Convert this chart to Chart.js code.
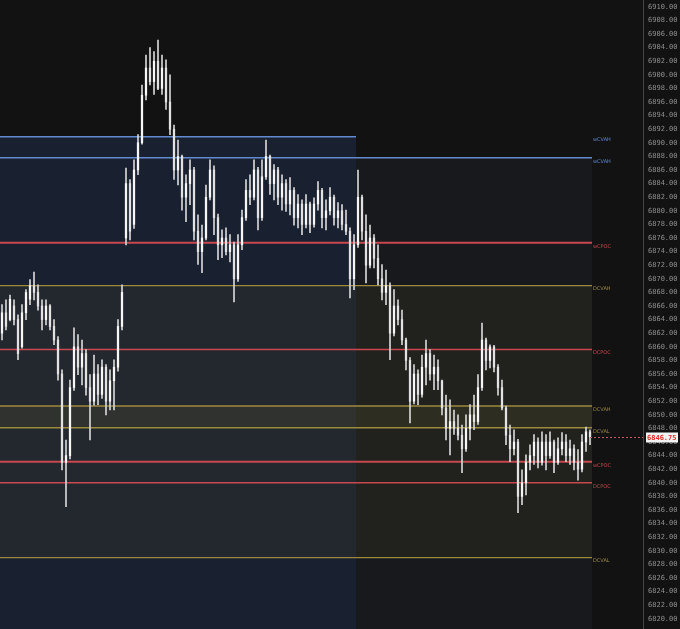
<!DOCTYPE html>
<html>
<head>
<meta charset="utf-8">
<script src="https://cdn.jsdelivr.net/npm/chart.js@4.4.1/dist/chart.umd.min.js"></script>
<style>
  html, body { margin: 0; padding: 0; background: #121212; }
  #wrap { width: 680px; height: 629px; }
</style>
</head>
<body>
<div id="wrap"><canvas id="myChart"></canvas></div>
<script>
// candles, one every slot (index = time)
const opens = [6862,6865,6864,6866,6864,6860,6865,6867,6869,6868,6866,6864,6866,6863,6861,6856,6843,6844,6854,6860,
  6857,6859,6854,6852,6856,6853,6857,6852,6855,6857,6863,6876,6884,6878,6886,6890,6897,6901,6899,6902,
  6898,6901,6896,6892,6886,6888,6882,6884,6886,6877,6874,6876,6882,6886,6879,6875,6876,6874,6875,6870,
  6875,6879,6883,6882,6886,6879,6885,6888,6884,6886,6882,6884,6881,6883,6879,6881,6878,6881,6878,6881,
  6883,6879,6880,6882,6879,6880,6878,6877,6870,6875,6882,6877,6872,6876,6873,6870,6868,6869,6862,6866,
  6864,6861,6858,6852,6856,6853,6857,6859,6856,6857,6855,6851,6848,6849,6848,6847,6845,6848,6850,6849,
  6854,6861,6858,6860,6857,6854,6851,6847,6845,6846,6838,6840,6843,6844,6846,6843,6846,6844,6846,6843,
  6845,6846,6844,6845,6843,6842,6846,6847.5];
const highs = [6866.2,6866.9,6867.6,6866.9,6864.7,6866.2,6868.4,6869.9,6871.0,6869.1,6866.9,6866.9,6866.2,6864.0,6861.5,6856.6,6846.3,6855.1,6862.8,6861.8,
  6861.0,6859.6,6855.9,6858.8,6857.4,6858.1,6857.4,6856.6,6858.1,6864.0,6869.1,6886.3,6884.6,6887.5,6891.2,6898.5,6902.9,6904.0,6903.4,6905.1,
  6902.9,6902.2,6900.0,6892.6,6890.4,6888.2,6885.3,6887.5,6886.4,6879.4,6877.9,6883.8,6887.5,6886.6,6879.5,6877.2,6877.5,6876.5,6875.4,6876.5,
  6880.1,6884.6,6885.3,6887.5,6886.4,6887.5,6890.4,6888.2,6886.8,6886.4,6885.3,6884.6,6884.9,6883.4,6882.4,6881.6,6882.4,6881.3,6881.9,6884.3,
  6883.3,6881.6,6883.4,6882.3,6881.2,6880.9,6880.1,6877.5,6876.5,6886.0,6882.3,6879.4,6877.9,6876.5,6875.0,6872.1,6871.3,6869.4,6868.4,6866.9,
  6865.4,6861.3,6858.4,6857.4,6856.6,6858.8,6861.0,6859.6,6858.8,6858.1,6855.1,6852.9,6852.2,6850.7,6850.0,6848.5,6850.0,6851.5,6852.9,6855.9,
  6863.5,6861.3,6860.3,6860.2,6857.4,6855.1,6851.3,6848.5,6847.8,6846.4,6841.9,6844.1,6845.6,6847.1,6846.6,6847.5,6847.1,6847.5,6846.3,6846.6,
  6847.4,6847.1,6846.3,6845.6,6844.9,6847.1,6848.2,6847.8];
const lows = [6861.0,6862.5,6863.8,6863.2,6858.1,6859.8,6864.0,6866.2,6866.9,6865.4,6862.5,6863.2,6862.5,6860.3,6855.1,6841.9,6836.5,6843.5,6853.6,6855.9,
  6854.4,6852.9,6846.3,6851.4,6851.5,6852.4,6850.0,6850.7,6850.7,6856.4,6862.5,6875.0,6875.7,6877.4,6885.3,6889.8,6896.3,6898.5,6897.1,6897.8,
  6897.1,6894.9,6891.2,6884.6,6883.8,6880.1,6878.4,6880.9,6875.7,6872.1,6870.9,6875.7,6881.6,6876.5,6872.8,6873.1,6873.5,6872.5,6866.6,6869.6,
  6874.3,6878.6,6880.9,6881.6,6877.2,6878.6,6884.6,6882.4,6881.6,6880.9,6880.1,6879.9,6879.4,6877.9,6877.5,6876.5,6877.5,6876.8,6877.6,6880.1,
  6877.5,6877.2,6879.4,6877.9,6877.5,6877.2,6876.5,6867.2,6868.4,6874.6,6875.7,6869.4,6871.6,6871.6,6869.1,6866.9,6866.2,6858.1,6861.6,6863.2,
  6860.3,6856.6,6848.8,6851.6,6851.5,6852.6,6854.4,6855.1,6853.7,6853.7,6850.0,6846.3,6844.1,6847.1,6846.3,6841.5,6844.6,6846.3,6847.8,6848.6,
  6853.6,6856.6,6856.9,6856.3,6852.9,6850.7,6845.6,6843.1,6844.1,6835.6,6836.8,6838.2,6841.9,6842.7,6842.2,6842.6,6841.9,6843.6,6841.5,6842.7,
  6844.1,6843.1,6842.7,6841.9,6840.4,6841.6,6844.6,6845.6];
const closes = [6865,6863,6867,6864,6859,6865,6868,6869,6868,6866,6864,6866,6863,6861,6856,6843,6844,6854,6860,6857,
  6859,6854,6852,6856,6853,6857,6852,6855,6857,6863,6868,6884,6877,6886,6890,6897,6901,6899,6902,6898,
  6901,6896,6892,6886,6888,6882,6884,6886,6877,6874,6876,6882,6886,6879,6875,6876,6874,6875,6870,6875,
  6879,6883,6882,6886,6879,6885,6888,6884,6886,6882,6884,6881,6883,6879,6881,6878,6881,6878,6881,6883,
  6879,6880,6882,6879,6880,6878,6877,6870,6875,6882,6877,6872,6876,6873,6870,6868,6869,6862,6866,6864,
  6861,6858,6852,6856,6853,6857,6859,6856,6857,6855,6851,6848,6849,6848,6847,6845,6848,6850,6849,6854,
  6861,6858,6860,6857,6854,6851,6847,6845,6846,6838,6840,6843,6844,6846,6843,6846,6844,6846,6843,6845,
  6846,6844,6845,6843,6842,6846,6847.5,6846.75];

// profile levels
const levelNames  = ['wCVAH','wCVAH','wCPOC','DCVAH','DCPOC','DCVAH','DCVAL','wCPOC','DCPOC','DCVAL'];
const levelValues = [6890.9, 6887.8, 6875.3, 6869.0, 6859.6, 6851.3, 6848.1, 6843.1, 6840.0, 6829.0];

// session split (between candle 88 and 89)
const sessionBreak = 88.5;
const lastPrice = closes[closes.length - 1];

const yMin = 6818.5, yMax = 6911;
const firstX = -0.5;
const lastX = closes.length - 0.5;

function levelColor(name) {
  if (name.indexOf('POC') >= 0) return '#c9474f';
  if (name.charAt(0) === 'w') return '#6389cf';
  return '#9c8a3e';
}

function rect(x0, x1, top, bottom, color, order) {
  return {
    type: 'line',
    data: [{x: x0, y: top}, {x: x1, y: top}],
    borderWidth: 0,
    pointRadius: 0,
    backgroundColor: color,
    fill: {value: bottom},
    order: order
  };
}

const datasets = [];

// candles
datasets.push({
  type: 'bar',
  data: lows.map((l, i) => ({x: i, y: [l, highs[i]]})),
  backgroundColor: '#d6d6d6',
  barThickness: 1,
  grouped: false,
  order: 1
});
datasets.push({
  type: 'bar',
  data: opens.map((o, i) => ({x: i, y: [o, closes[i]]})),
  backgroundColor: opens.map((o, i) => closes[i] >= o ? '#f6f6f6' : '#e2e2e2'),
  barThickness: 1.6,
  minBarLength: 1,
  grouped: false,
  order: 0
});

// level lines
levelNames.forEach((n, i) => {
  const end = i === 0 ? sessionBreak : lastX;
  datasets.push({
    type: 'line',
    data: [{x: firstX, y: levelValues[i]}, {x: end, y: levelValues[i]}],
    borderColor: levelColor(n),
    borderWidth: n === 'wCPOC' ? 2 : 1.4,
    pointRadius: 0,
    fill: false,
    order: 2
  });
});

// shaded areas
datasets.push(rect(firstX, sessionBreak, levelValues[0], yMin, 'rgba(40,62,105,0.36)', 6));
datasets.push(rect(sessionBreak, lastX, levelValues[1], yMin, 'rgba(50,60,80,0.16)', 6));
datasets.push(rect(firstX, lastX, levelValues[3], levelValues[9], 'rgba(82,76,44,0.19)', 5));
datasets.push(rect(firstX, lastX, levelValues[5], levelValues[6], 'rgba(95,88,52,0.22)', 4));

const bgPlugin = {
  id: 'bg',
  beforeDraw(chart) {
    const c = chart.ctx;
    c.save();
    c.fillStyle = '#121212';
    c.fillRect(0, 0, chart.width, chart.height);
    c.restore();
  }
};

const labelPlugin = {
  id: 'levelLabels',
  afterDraw(chart) {
    const c = chart.ctx;
    const xs = chart.scales.x, ys = chart.scales.y;
    const lx = xs.getPixelForValue(lastX);
    c.save();
    c.font = '5px "DejaVu Sans"';
    c.textBaseline = 'top';
    c.textAlign = 'left';
    levelNames.forEach((n, i) => {
      c.fillStyle = levelColor(n);
      c.fillText(n, lx + 1, ys.getPixelForValue(levelValues[i]) + 1);
    });

    // last price marker
    const py = Math.round(ys.getPixelForValue(lastPrice)) + 0.5;
    c.strokeStyle = '#c9575f';
    c.lineWidth = 1;
    c.setLineDash([2, 2]);
    c.beginPath();
    c.moveTo(lx - 2, py);
    c.lineTo(chart.chartArea.right, py);
    c.stroke();
    c.setLineDash([]);
    const bx = chart.chartArea.right + 3;
    c.fillStyle = '#f2f2f2';
    c.fillRect(bx, py - 5, 32, 10);
    c.fillStyle = '#e02c2c';
    c.font = 'bold 7px "DejaVu Sans Mono"';
    c.textBaseline = 'middle';
    c.fillText(lastPrice.toFixed(2), bx + 1, py + 0.5);
    c.restore();
  }
};

new Chart(document.getElementById('myChart'), {
  type: 'bar',
  data: {datasets: datasets},
  options: {
    responsive: true,
    maintainAspectRatio: false,
    animation: false,
    layout: {padding: 0},
    plugins: {legend: {display: false}, tooltip: {enabled: false}},
    scales: {
      x: {
        type: 'linear',
        display: false,
        min: firstX,
        max: 160.25,
        offset: false
      },
      y: {
        position: 'right',
        min: yMin,
        max: yMax,
        afterFit(scale) {
          scale.width = 37;
          scale.paddingTop = 0;
          scale.paddingBottom = 0;
        },
        grid: {display: false, drawTicks: false},
        border: {display: true, color: '#454545', width: 1},
        ticks: {
          stepSize: 2,
          includeBounds: false,
          padding: 5,
          color: '#8e8e8e',
          font: {family: 'DejaVu Sans Mono', size: 7},
          callback: v => v.toFixed(2)
        }
      }
    }
  },
  plugins: [bgPlugin, labelPlugin]
});
</script>
</body>
</html>
